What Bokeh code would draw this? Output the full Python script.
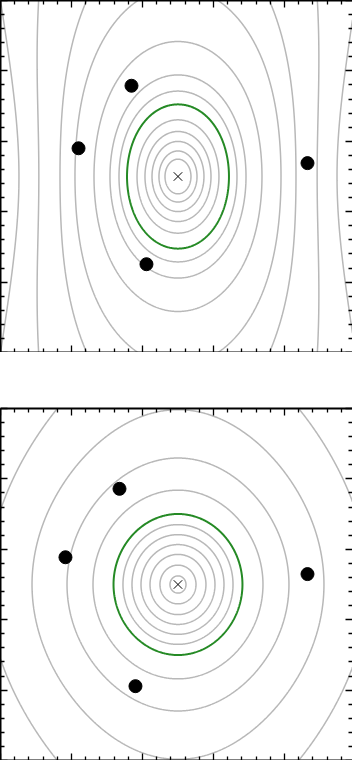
import numpy as np
from bokeh.plotting import figure
from bokeh.layouts import column
from bokeh.models import Range1d, LinearAxis, FixedTicker, CustomJSTickFormatter
from bokeh.embed import file_html
from bokeh.resources import INLINE

# ---------------- data (axis units; 1 unit = one major tick interval) ----------
X_MAX = 4.958
Y_MAX = 5.0
major_ticks = [0, 1, 2, 3, 4, 5]
minor_ticks = [round(i * 0.2, 1) for i in range(26) if i % 5 != 0]

# top panel
top_pts_x = [1.845, 1.099, 4.324, 2.056]
top_pts_y = [3.789, 2.901, 2.690, 1.254]
top_center_x = [2.5]
top_center_y = [2.5]
# half-widths of the contours where they cross the horizontal line through the centre
top_gray_halfwidths = [0.183, 0.268, 0.366, 0.465, 0.577, 0.831, 0.958, 1.183,
                       1.451, 1.662, 1.960, 2.240]
top_green_halfwidth = 0.718
# shape of the contour field
top_q2 = 1.8      # squared vertical/horizontal ratio near the centre
top_s2 = 8.0      # flattening of the vertical growth
top_c = 2.456     # opening of the outer contours

# bottom panel
bot_pts_x = [1.676, 0.915, 4.324, 1.901]
bot_pts_y = [3.859, 2.887, 2.648, 1.056]
bot_center_x = [2.5]
bot_center_y = [2.5]
bot_gray_halfwidths = [0.113, 0.254, 0.394, 0.521, 0.648, 0.775, 1.197, 1.563,
                       2.056, 2.676]
bot_green_halfwidth = 0.908
bot_q2 = 1.17
bot_s2 = 25.0
bot_c = 1e3

GRAY = "#b8b8b8"
GREEN = "#258a25"


def make_panel(pts_x, pts_y, cx, cy, gray_hw, green_hw, q2, s2, c):
    p = figure(frame_width=352, frame_height=352,
               x_range=Range1d(0, X_MAX), y_range=Range1d(0, Y_MAX),
               output_backend="svg", toolbar_location=None,
               x_axis_location=None, y_axis_location=None, min_border=0)
    p.grid.visible = False
    p.outline_line_color = None
    p.background_fill_color = "white"
    p.border_fill_color = "white"

    for loc in ["below", "above", "left", "right"]:
        ax = LinearAxis(ticker=FixedTicker(ticks=major_ticks, minor_ticks=minor_ticks),
                        formatter=CustomJSTickFormatter(code="return ''"),
                        major_label_text_font_size="1px", major_label_standoff=0,
                        major_tick_in=7, major_tick_out=0,
                        minor_tick_in=4, minor_tick_out=0,
                        major_tick_line_width=1.3, minor_tick_line_width=1.3,
                        axis_line_width=2, axis_line_color="black")
        if loc == "right":
            ax.axis_line_color = None
        p.add_layout(ax, loc)

    xs = np.linspace(0, X_MAX, 500)
    ys = np.linspace(0, Y_MAX, 500)
    X, Y = np.meshgrid(xs, ys)
    dx = X - cx[0]
    dy = Y - cy[0]
    Z = dx ** 2 / (1 + (dy / c) ** 2) + dy ** 2 / (q2 * (1 + dy ** 2 / s2))

    hw = sorted(list(gray_hw) + [green_hw])
    levels = [h ** 2 for h in hw]
    colors = [GREEN if h == green_hw else GRAY for h in hw]
    widths = [2.0 if h == green_hw else 1.5 for h in hw]
    p.contour(X, Y, Z, levels=levels, line_color=colors, line_width=widths, fill_color=None)

    p.scatter(pts_x, pts_y, size=13, color="black")
    p.scatter(cx, cy, marker="x", size=12, line_color="black", line_width=1)
    return p


p1 = make_panel(top_pts_x, top_pts_y, top_center_x, top_center_y,
                top_gray_halfwidths, top_green_halfwidth, top_q2, top_s2, top_c)
p2 = make_panel(bot_pts_x, bot_pts_y, bot_center_x, bot_center_y,
                bot_gray_halfwidths, bot_green_halfwidth, bot_q2, bot_s2, bot_c)
p2.min_border_top = 56

layout = column(p1, p2, spacing=0)
open("out.html", "w").write(file_html(layout, INLINE))
